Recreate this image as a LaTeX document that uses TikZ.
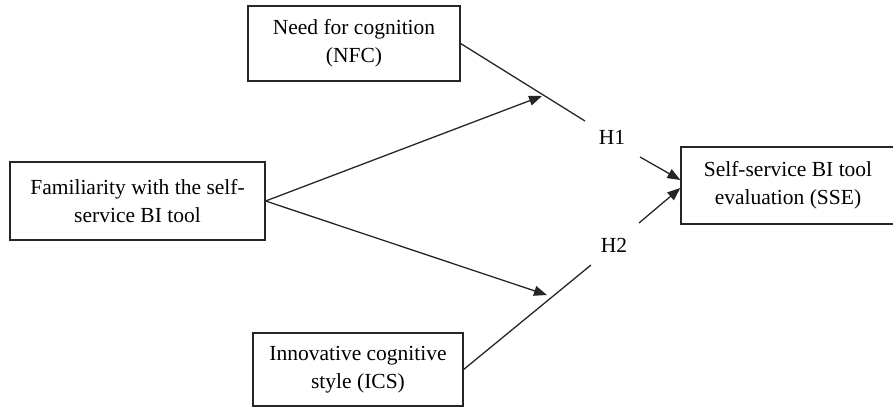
\documentclass[tikz,border=0pt]{standalone}
\usepackage{fontspec}
\setmainfont{Liberation Serif}
\usetikzlibrary{arrows.meta}
\begin{document}
\begin{tikzpicture}[x=1pt,y=-1pt,
  every node/.style={font=\fontsize{21.5}{28}\selectfont},
  construct/.style={draw=black!85, line width=1.2pt, align=center, inner sep=0pt},
  link/.style={draw=black!85, line width=1.3pt},
  arrowlink/.style={link, -{Triangle[length=13pt,width=10pt]}},
  hyp/.style={inner sep=1pt}]
\useasboundingbox (0,0) rectangle (893,407);

% constructs
\node[construct, minimum width=212pt, minimum height=75pt] (NFC) at (354,43.5)
  {Need for cognition\\(NFC)};
\node[construct, minimum width=255pt, minimum height=78pt] (FAM) at (137.5,201)
  {Familiarity with the self-\\service BI tool};
\node[construct, minimum width=210pt, minimum height=73pt] (ICS) at (358,369.5)
  {Innovative cognitive\\style (ICS)};
\node[construct, minimum width=214pt, minimum height=77pt] (SSE) at (788,185.5)
  {Self-service BI tool\\evaluation (SSE)};

% hypothesis labels
\node[hyp] (H1) at (612,137) {H1};
\node[hyp] (H2) at (614,245) {H2};

% end points of the moderating paths
\coordinate (up) at (542,96);
\coordinate (down) at (547,295);
\coordinate (nfcEnd) at (585,121);
\coordinate (icsEnd) at (591,265);
\coordinate (h1Start) at (640,157);
\coordinate (h2Start) at (639,223);
\coordinate (h1Tip) at (SSE.west |- 0,180);
\coordinate (h2Tip) at (SSE.west |- 0,188);

% paths
\draw[arrowlink] (FAM.east) -- (up);
\draw[arrowlink] (FAM.east) -- (down);
\draw[link] (NFC.east) -- (nfcEnd);
\draw[link] (ICS.east) -- (icsEnd);
\draw[arrowlink] (h1Start) -- (h1Tip);
\draw[arrowlink] (h2Start) -- (h2Tip);
\end{tikzpicture}
\end{document}
